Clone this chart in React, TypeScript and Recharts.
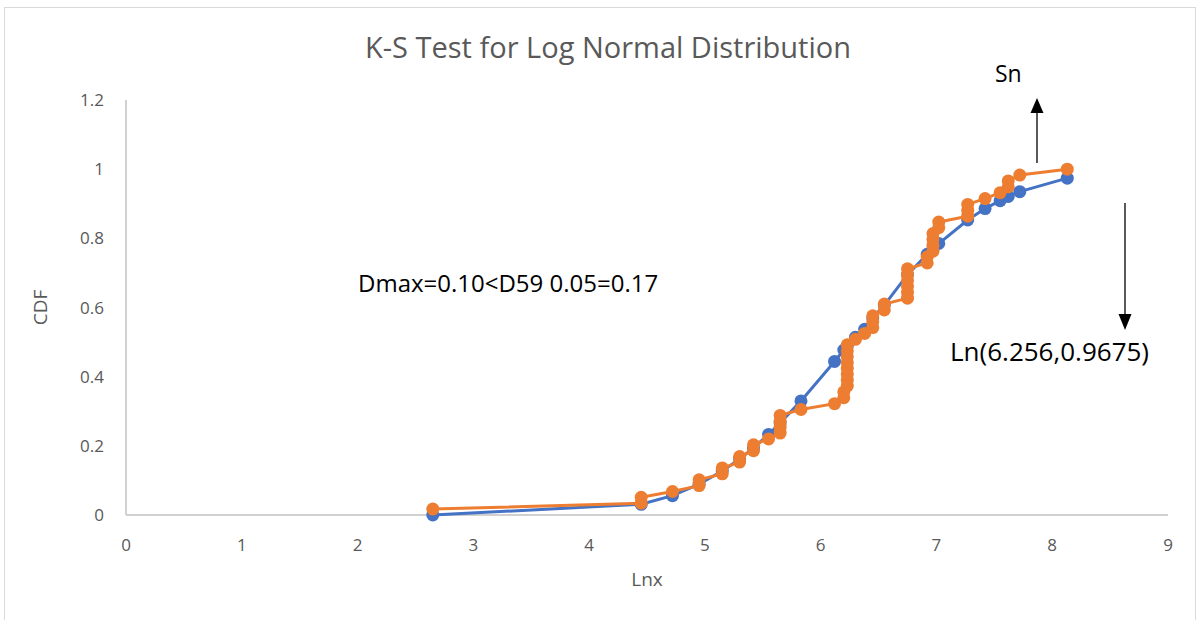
import React from "react";
import {
  ScatterChart,
  Scatter,
  XAxis,
  YAxis,
  Label,
} from "recharts";

// fitted log-normal CDF, one point per distinct ln(x)
const lnxFit = [
  2.65, 4.45, 4.72, 4.95, 5.15, 5.3, 5.42, 5.55, 5.65, 5.83, 6.12, 6.2, 6.23,
  6.3, 6.38, 6.45, 6.55, 6.75, 6.92, 6.97, 7.02, 7.27, 7.42, 7.55, 7.62, 7.72,
  8.13,
];
const cdfFit = [
  0.0, 0.031, 0.056, 0.089, 0.127, 0.162, 0.194, 0.233, 0.266, 0.33, 0.444,
  0.477, 0.489, 0.514, 0.537, 0.57, 0.607, 0.695, 0.754, 0.77, 0.785, 0.853,
  0.886, 0.909, 0.921, 0.935, 0.974,
];

// empirical CDF Sn (59 samples)
const lnxSn = [
  2.65, 4.45, 4.45, 4.72, 4.95, 4.95, 5.15, 5.15, 5.3, 5.3, 5.42, 5.42, 5.55,
  5.65, 5.65, 5.65, 5.65, 5.83, 6.12, 6.2, 6.2, 6.23, 6.23, 6.23, 6.23, 6.23,
  6.23, 6.23, 6.23, 6.3, 6.38, 6.45, 6.45, 6.45, 6.55, 6.55, 6.75, 6.75, 6.75,
  6.75, 6.75, 6.75, 6.92, 6.92, 6.97, 6.97, 6.97, 6.97, 7.02, 7.02, 7.27, 7.27,
  7.27, 7.42, 7.55, 7.62, 7.62, 7.72, 8.13,
];
const cdfSn = [
  0.017, 0.034, 0.051, 0.068, 0.085, 0.102, 0.119, 0.136, 0.153, 0.169, 0.186,
  0.203, 0.22, 0.237, 0.254, 0.271, 0.288, 0.305, 0.322, 0.339, 0.356, 0.373,
  0.39, 0.407, 0.424, 0.441, 0.458, 0.475, 0.492, 0.508, 0.525, 0.542, 0.559,
  0.576, 0.593, 0.61, 0.627, 0.644, 0.661, 0.678, 0.695, 0.712, 0.729, 0.746,
  0.763, 0.78, 0.797, 0.814, 0.831, 0.847, 0.864, 0.881, 0.898, 0.915, 0.932,
  0.949, 0.966, 0.983, 1.0,
];

const xTicks = [0, 1, 2, 3, 4, 5, 6, 7, 8, 9];
const yTicks = [0, 0.2, 0.4, 0.6, 0.8, 1, 1.2];

const fitData = lnxFit.map((x, i) => ({ x, y: cdfFit[i] }));
const snData = lnxSn.map((x, i) => ({ x, y: cdfSn[i] }));

const FONT = "'Open Sans', 'Noto Sans', sans-serif";
const GREY = "#595959";

const dot = (color: string) => (props: any) =>
  <circle cx={props.cx} cy={props.cy} r={6.5} fill={color} />;

export default function App() {
  return (
    <div
      style={{
        position: "absolute",
        left: 0,
        top: 0,
        width: 1200,
        height: 620,
        background: "#fff",
        fontFamily: FONT,
      }}
    >
      <div
        style={{
          position: "absolute",
          left: 4,
          top: 7,
          width: 1190,
          height: 640,
          border: "1px solid #d9d9d9",
        }}
      />
      <div
        style={{
          position: "absolute",
          top: 27,
          width: 1200,
          left: 8,
          textAlign: "center",
          fontSize: 29,
          lineHeight: "40px",
          color: GREY,
        }}
      >
        K-S Test for Log Normal Distribution
      </div>
      <ScatterChart
        width={1200}
        height={620}
        margin={{ top: 100, right: 32, bottom: 75, left: 66 }}
        style={{ position: "absolute", left: 0, top: 0 }}
      >
        <XAxis
          type="number"
          dataKey="x"
          domain={[0, 9]}
          ticks={xTicks}
          height={30}
          tickLine={false}
          tickSize={0}
          tickMargin={24}
          axisLine={{ stroke: "#d0d0d0", strokeWidth: 2 }}
          tick={{ fill: GREY, fontSize: 17, fontFamily: FONT }}
          interval={0}
        >
          <Label
            value="Lnx"
            position="bottom"
            offset={28}
            fill={GREY}
            fontSize={19}
            fontFamily={FONT}
          />
        </XAxis>
        <YAxis
          type="number"
          dataKey="y"
          domain={[0, 1.2]}
          ticks={yTicks}
          width={60}
          tickLine={false}
          tickSize={0}
          tickMargin={22}
          axisLine={{ stroke: "#d0d0d0", strokeWidth: 2 }}
          tick={{ fill: GREY, fontSize: 17, fontFamily: FONT }}
          interval={0}
        >
          <Label
            value="CDF"
            angle={-90}
            position="insideLeft"
            offset={-26}
            fill={GREY}
            fontSize={19}
            fontFamily={FONT}
            style={{ textAnchor: "middle" }}
          />
        </YAxis>
        <Scatter
          data={fitData}
          fill="#4472C4"
          line={{ stroke: "#4472C4", strokeWidth: 3 }}
          shape={dot("#4472C4")}
          isAnimationActive={false}
        />
        <Scatter
          data={snData}
          fill="#ED7D31"
          line={{ stroke: "#ED7D31", strokeWidth: 3 }}
          shape={dot("#ED7D31")}
          isAnimationActive={false}
        />
      </ScatterChart>
      <svg
        width={1200}
        height={620}
        style={{ position: "absolute", left: 0, top: 0, pointerEvents: "none" }}
      >
        <text x={358} y={292} fontSize={24} fill="#000" fontFamily={FONT}>
          Dmax=0.10&lt;D59 0.05=0.17
        </text>
        <text x={995} y={82} fontSize={23} fill="#000" fontFamily={FONT}>
          Sn
        </text>
        <text x={950} y={361} fontSize={26} fill="#000" fontFamily={FONT}>
          Ln(6.256,0.9675)
        </text>
        <line x1={1037} y1={163} x2={1037} y2={112} stroke="#000" strokeWidth={1.3} />
        <polygon points="1037,98 1030.5,113 1043.5,113" fill="#000" />
        <line x1={1125} y1={203} x2={1125} y2={315} stroke="#000" strokeWidth={1.3} />
        <polygon points="1125,330 1118.5,314 1131.5,314" fill="#000" />
      </svg>
    </div>
  );
}
